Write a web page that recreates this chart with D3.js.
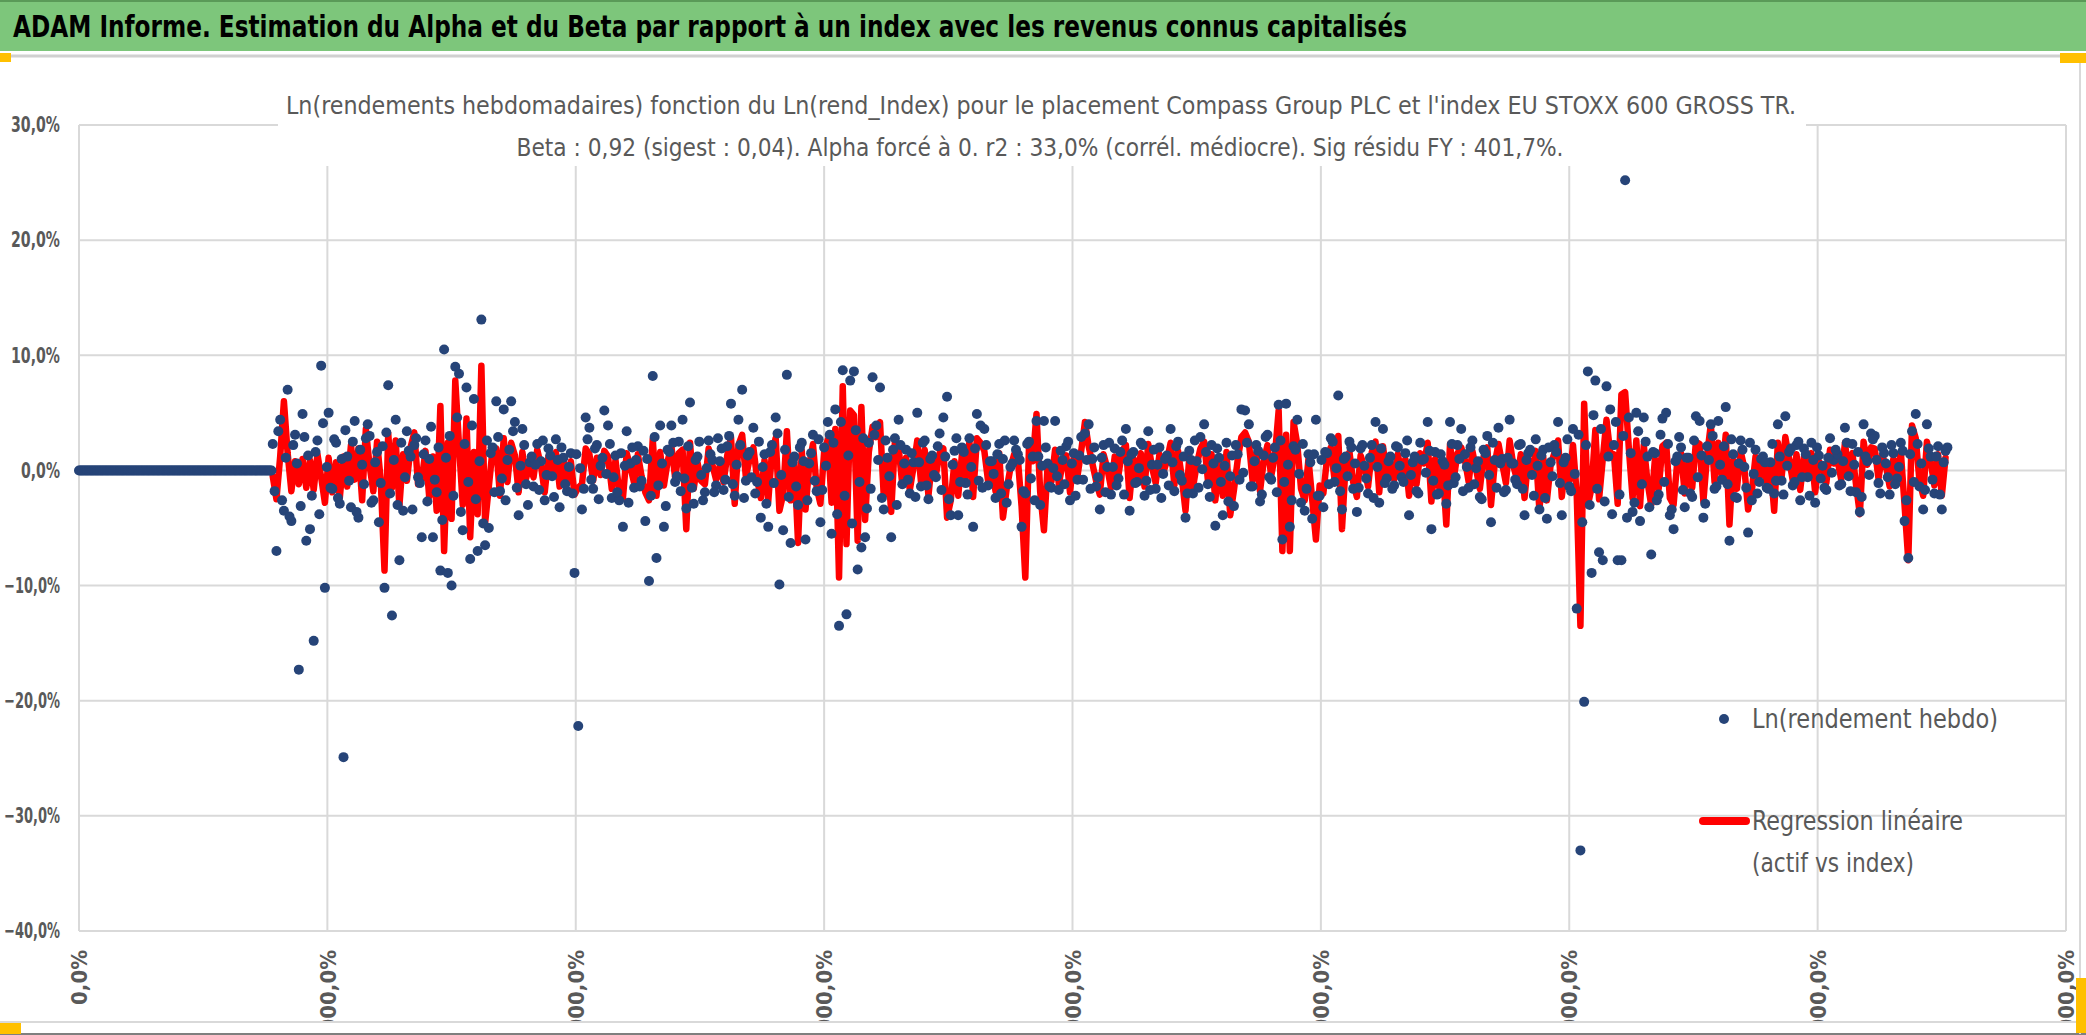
<!DOCTYPE html>
<html>
<head>
<meta charset="utf-8">
<script src="https://cdn.jsdelivr.net/npm/d3@7"></script>
<style>
  body { margin: 0; background: #fff; }
  svg { display: block; }
</style>
</head>
<body>
<svg id="chart" width="2086" height="1035"></svg>
<script>
// Texts
const mainTitle = "ADAM Informe. Estimation du Alpha et du Beta par rapport à un index avec les revenus connus capitalisés";
const chartTitle1 = "Ln(rendements hebdomadaires) fonction du Ln(rend_Index) pour le placement Compass Group PLC et l'index EU STOXX 600 GROSS TR.";
const chartTitle2 = "Beta : 0,92 (sigest : 0,04). Alpha forcé à 0. r2 : 33,0% (corrél. médiocre). Sig résidu FY : 401,7%.";
const legendLabels = ["Ln(rendement hebdo)", "Regression linéaire", "(actif vs index)"];

// Axes
const yTicks = [-40, -30, -20, -10, 0, 10, 20, 30];
const xTicks = [0, 200, 400, 600, 800, 1000, 1200, 1400, 1600];

// weeks 0..155 : flat at 0 (no history yet)
const flatWeeks = [0, 155];
// then one value every 3 weeks, in %
const firstWeek = 156;
const weekStep = 3;

const lnRendement = [
  2.3, -7.0, 4.4, -3.5, 7.0, -4.4, 3.1, -17.3, 4.9, -6.1,
  -5.1, -14.8, 2.6, 9.1, -10.2, 5.0, -1.6, 2.4, -2.9, -24.9,
  1.2, -3.2, 4.3, -4.1, 0.5, 2.8, 3.0, -2.6, 1.6, -1.1,
  -10.2, 7.4, -12.6, 4.4, -7.8, -3.5, 3.4, 1.2, 2.2, -0.6,
  -5.8, 2.6, 1.0, -5.8, -1.9, -8.7, 10.5, -8.9, -10.0, 9.0,
  8.4, -5.2, 7.2, -7.7, 6.2, -7.0, 13.1, -6.5, -5.0, 2.0,
  6.0, -1.8, 5.3, 0.9, 6.0, 4.2, -3.9, 3.6, -1.2, 0.7,
  -1.4, 2.3, 0.8, -2.6, 1.9, -0.5, 2.7, -3.2, 1.1, -1.8,
  1.5, -8.9, -22.2, -3.4, 4.6, 3.7, -1.6, 2.2, 0.4, 5.2,
  3.9, -2.4, 1.3, -2.6, -4.9, 3.4, 0.6, -1.5, 2.1, -0.9,
  -4.4, -9.6, 8.2, -7.6, 3.9, -4.9, 1.8, 3.9, -1.0, 2.5,
  4.4, -3.3, 5.9, -2.9, 1.2, -0.4, -1.9, 2.6, 0.9, -1.3,
  0.8, -1.7, 2.1, 5.8, -2.2, 4.4, 7.0, -0.9, 1.6, 3.7,
  -1.0, -4.1, 1.4, -4.9, 2.2, 4.6, -9.9, -5.2, 8.3, -6.3,
  1.2, -3.0, 2.4, -6.0, 0.6, 3.1, -1.8, -4.5, 2.0, 4.2,
  -5.5, 5.3, -13.5, 8.7, -12.5, 7.8, 8.6, -8.6, -6.7, -5.8,
  2.4, 8.1, 3.9, 7.2, -3.4, 1.1, -5.8, 2.8, 4.4, -1.2,
  1.8, -2.0, 0.7, 5.0, -1.4, 2.6, -2.5, 1.3, -0.6, 3.2,
  4.6, 6.4, -3.9, 1.7, -3.9, 2.0, -1.1, 2.8, -4.9, 4.9,
  3.9, 3.6, -1.3, 0.8, -2.4, 2.3, 1.0, -2.8, 0.3, 2.6,
  1.4, -4.9, -2.0, 2.5, 1.2, 4.3, -3.0, 4.3, 0.6, -1.5,
  4.3, -1.7, 0.9, 2.1, -2.6, 1.5, -0.8, 2.9, 3.2, 4.0,
  1.0, -1.4, -3.4, 2.2, 0.3, -2.1, 1.9, -0.7, 2.6, 3.6,
  -3.5, 1.6, -1.0, 2.4, -2.2, 3.4, 0.5, -1.6, 2.0, -0.3,
  1.3, 3.6, -1.8, 2.5, -0.9, -4.1, 1.7, -2.0, 0.8, 2.9,
  4.0, -1.2, 2.2, -4.8, 1.1, -3.9, 2.4, -0.5, -3.1, 1.4,
  5.3, 5.2, 4.0, -1.4, 2.2, -2.7, 1.3, 3.1, -0.8, 2.0,
  5.7, -6.0, 5.8, -4.9, 2.1, 4.4, -2.8, -3.5, 1.4, -4.2,
  4.4, -2.2, -3.2, 1.5, 2.8, -1.0, 6.5, -3.4, 1.2, 2.5,
  -1.6, -3.6, 1.9, 0.4, -2.0, 2.2, 4.2, -2.8, 3.6, -0.7,
  1.2, -1.3, 2.0, -0.6, 1.5, -3.9, 0.7, -1.8, 2.4, 1.0,
  4.2, -5.1, 1.6, -2.0, 0.8, -2.9, 4.2, -1.1, 2.2, 3.6,
  1.4, -1.5, 2.6, 0.2, -2.3, 1.8, 3.0, -4.5, 0.9, 3.7,
  1.0, -1.7, 4.4, 0.6, -1.2, 2.3, -3.9, 1.5, -0.4, 2.7,
  -3.4, 1.8, -4.2, 0.7, 2.2, 4.2, -3.9, 1.1, -1.4, 3.6,
  -12.0, -33.0, -20.1, 8.6, -8.9, 7.8, -7.1, -7.8, 7.3, 5.3,
  2.2, -7.8, -7.8, 25.2, 4.6, -3.6, 5.0, -4.4, 4.6, 1.2,
  -7.3, 1.5, -2.1, 4.5, 5.0, -3.9, -5.1, 1.2, 2.0, -3.2,
  1.1, -2.3, 4.7, 4.3, -4.1, 2.1, 4.0, -1.6, 4.3, -0.8,
  5.5, -6.1, 1.4, -2.4, 2.6, 0.3, -5.4, -2.6, 1.8, -1.0,
  1.2, -1.5, 0.7, -2.0, 4.0, -0.9, 4.7, 1.6, -1.3, 2.2,
  -2.6, 1.9, -0.6, 2.4, -2.8, 1.3, 0.4, -1.7, 2.8, 0.9,
  1.4, -1.2, 3.7, -0.5, 2.3, -1.9, -3.6, 4.0, 0.8, 3.2,
  3.0, -1.1, 2.0, 0.6, -2.1, 1.5, -0.7, 2.4, -4.4, -7.6,
  3.4, 4.9, -1.4, -3.4, 4.0, 1.2, -2.0, 2.1, -3.4, 1.7
];

// the in-between weeks (firstWeek + 1.5 + 3i), mostly inside the dense band
const lnRendementMid = [
  -1.8, 3.4, -2.6, 1.1, -4.0, 2.2, 0.6, -3.1, 2.9, 1.3,
  -2.2, 1.6, -3.8, 4.1, 0.3, -1.5, 2.7, -2.4, 1.0, 3.5,
  -0.9, 2.5, -3.6, 1.8, -1.2, 4.0, -2.8, 0.7, -4.5, 2.1,
  3.3, -2.0, 0.9, -3.0, 2.4, -0.6, 1.7, -3.4, 2.8, -1.1,
  1.4, -2.7, 3.8, -0.8, 2.0, -4.3, 1.1, 3.0, -2.2, 4.6,
  -3.6, 2.3, -1.0, 3.9, -2.5, 0.8, -4.6, 2.6, 1.5, -1.9,
  2.9, -0.7, -2.6, 1.8, 3.4, -1.5, 0.4, 2.2, -3.0, 1.2,
  0.5, -1.7, 2.6, -0.4, 1.3, -2.3, 0.9, 2.0, -1.2, 0.3,
  -2.0, 1.4, 0.2, -1.6, 2.7, -0.8, 1.9, -2.5, 1.1, -0.3,
  2.3, -0.6, -1.9, 1.5, 0.4, -2.8, 2.0, 0.9, -1.4, 1.7,
  1.0, -2.2, 2.9, -1.3, 0.6, -3.1, 1.6, 2.4, -0.5, -1.8,
  -0.7, 2.1, -1.5, 0.9, 2.5, -2.6, 0.2, 1.4, -1.9, 2.8,
  1.9, -0.8, 3.0, -1.2, 0.5, 2.2, -2.4, 1.3, -0.6, -2.0,
  2.5, 0.3, -2.9, 1.6, -1.1, 3.2, -0.4, 1.8, -2.3, 0.7,
  -1.4, 2.0, 0.8, -2.6, 1.5, -0.9, 2.7, -1.7, 0.4, 3.1,
  2.4, -3.8, 4.2, -2.2, 1.3, -4.6, 3.5, -1.0, 2.8, -3.3,
  -1.6, 3.1, 0.9, -2.4, 2.6, -0.5, 1.8, -3.0, 2.2, 0.6,
  -0.8, 1.5, -2.3, 0.7, 2.4, -1.3, 1.0, -0.4, 2.1, -1.7,
  1.2, -2.5, 0.5, 2.8, -1.0, 1.6, -2.1, 0.3, 1.9, -0.9,
  -1.5, 2.2, 0.8, -0.3, 1.4, -2.0, 2.6, -1.2, 0.6, 1.8,
  0.9, -1.8, 2.3, -0.7, -2.6, 1.2, 0.4, 2.0, -1.4, 0.2,
  -0.5, 1.7, -1.2, 2.5, 0.6, -2.2, 1.3, -0.8, 0.9, -1.6,
  2.0, -0.6, 1.1, -1.9, 2.4, 0.3, -1.3, 1.6, -2.1, 0.8,
  1.4, -1.1, 0.2, 2.2, -0.9, -1.7, 1.8, 0.5, -2.4, 1.0,
  -1.3, 0.7, 2.1, -0.4, 1.2, -2.0, 0.9, 2.6, -1.5, 0.1,
  1.6, -2.3, 0.6, 1.9, -1.0, 0.4, -2.7, 1.3, 2.2, -0.8,
  -0.2, 2.4, -1.4, 0.8, 1.7, -2.1, 2.9, -0.6, 1.1, -1.9,
  2.6, -1.0, 0.5, -2.6, 1.8, -0.3, 2.3, -1.6, 0.7, 1.4,
  -2.2, 0.9, 1.6, -1.2, 2.5, 0.2, -1.8, 1.0, -0.5, 2.0,
  0.6, -1.5, 2.2, -0.7, 1.1, -2.4, 0.3, 1.9, -1.1, 0.8,
  -1.6, 2.1, 0.4, -1.0, 2.6, -0.4, 1.2, -2.0, 0.9, -0.2,
  1.7, -0.9, -2.1, 1.4, 0.5, -1.3, 2.3, -0.6, 1.0, -1.8,
  0.3, 2.0, -1.2, 0.8, -2.5, 1.5, -0.4, 2.4, -1.5, 0.6,
  -1.9, 1.1, 0.6, -0.8, 2.2, -1.6, 0.9, 1.8, -2.2, 0.4,
  1.3, -2.4, 2.0, -0.5, 1.6, -1.1, 0.7, 2.7, -1.8, -0.3,
  3.1, -4.5, 2.2, -3.0, 4.8, -1.6, 3.6, -2.7, 1.2, -3.8,
  4.2, -2.1, 3.0, -4.1, 1.5, -2.8, 3.4, -1.2, 2.5, -3.2,
  1.6, -2.6, 3.1, -1.0, 2.3, -3.4, 0.8, 2.9, -1.7, 1.1,
  -2.0, 2.6, -0.6, 1.3, -2.9, 0.9, 3.0, -1.4, 0.5, 2.1,
  -1.2, 2.7, -2.3, 0.6, 1.8, -1.5, 2.4, -0.3, -2.0, 1.0,
  0.7, -1.6, 2.3, -0.9, 1.2, -2.1, 0.4, 1.9, -1.0, 2.5,
  -0.6, 1.4, -2.2, 0.9, 2.0, -0.7, -1.5, 1.1, -0.2, 1.8,
  -1.3, 0.8, 2.4, -1.8, 0.5, 1.6, -2.3, 1.2, -0.4, 2.7,
  0.9, -2.0, 1.5, -0.6, 2.2, -1.2, 0.3, 1.7, -2.6, 1.4,
  -1.0, 2.3, 0.6, -1.7, 1.9, -0.8, 1.2, -2.1, 0.7, 2.0
];

const regression = [
  -0.5, -2.5, 1.2, 6.0, 1.5, -1.8, 0.8, -1.2, 1.0, -1.5,
  0.9, -1.7, 1.4, -0.6, -2.8, 1.1, -1.9, 0.7, -2.4, 1.2,
  -1.4, 2.2, -0.8, 1.9, -2.6, 3.6, 0.4, -1.8, 2.5, -0.9,
  -8.7, 3.2, -1.5, 2.6, -3.1, 1.4, -0.9, 2.0, 3.3, -1.2,
  -0.8, 1.7, -2.3, 1.2, -3.5, 5.6, -7.0, 2.4, -4.2, 7.8,
  2.2, -3.0, 4.5, -5.8, 1.6, -3.8, 9.1, -4.6, -1.4, 1.8,
  1.9, -2.2, 2.8, -1.0, 2.4, 1.3, -1.9, 1.6, -0.7, 0.5,
  -0.6, 1.8, 0.4, -1.9, 1.2, -0.3, 1.6, -1.4, 0.9, -1.0,
  0.8, -2.1, -1.5, -1.2, 1.9, 1.4, -0.9, 1.1, -0.4, 1.7,
  1.2, -1.6, 0.9, -1.8, -2.4, 1.5, 0.3, -1.1, 1.4, -0.5,
  -1.9, -2.6, 2.7, -2.2, 1.6, -1.3, 0.8, 2.1, -0.6, 1.5,
  1.8, -5.1, 2.4, -1.6, 0.7, -0.9, -1.2, 1.9, 0.5, -0.8,
  0.4, -1.0, 1.3, 2.9, -2.9, 2.2, 3.1, -0.6, 1.0, 2.0,
  -0.7, -2.4, 0.9, -2.7, 1.6, 2.8, -3.5, -2.1, 3.4, -2.6,
  0.9, -6.3, 1.7, -3.4, 0.4, 2.3, -1.5, -2.9, 1.6, 2.7,
  -2.8, 3.6, -9.3, 7.3, -6.4, 5.2, 4.8, -6.1, 5.5, -4.3,
  1.6, 3.8, 2.9, 4.2, -2.2, 0.9, -3.6, 2.5, 2.0, -1.3,
  1.1, -1.7, 0.3, 2.6, -1.0, 1.8, -2.2, 1.0, -0.4, 1.5,
  1.9, -4.1, -2.6, 0.8, -2.2, 1.4, -0.6, 2.5, -2.3, 2.8,
  2.4, 1.7, -0.9, 0.6, -1.8, 1.5, -4.1, -1.6, 0.2, 1.4,
  1.0, -3.1, -9.3, 2.2, 0.8, 4.9, -1.9, -5.2, 0.5, -1.0,
  1.8, -1.2, 0.6, 1.3, -1.9, 1.1, -0.5, 1.7, 4.2, 2.1,
  0.6, -0.9, -2.1, 1.4, 0.2, -1.5, 1.2, -0.4, 1.7, 2.2,
  -2.4, 1.1, -0.7, 1.5, -1.4, 2.3, 0.3, -1.1, 1.4, -0.2,
  0.8, 2.4, -1.3, 1.7, -0.6, -3.5, 1.1, -1.5, 0.5, 1.9,
  2.5, -0.8, 1.4, -2.6, 0.7, -2.2, 1.6, -3.9, -1.7, 0.9,
  2.9, 3.3, 2.5, -0.9, 1.5, -1.8, 0.8, 2.2, -0.5, 1.3,
  5.2, -7.0, 3.1, -7.0, 4.2, 2.3, -1.6, -2.6, 1.0, -2.5,
  -6.0, -1.3, -2.0, 1.1, 2.0, -0.8, 3.0, -5.1, 0.7, 1.6,
  -1.0, -2.3, 1.3, 0.3, -1.4, 1.6, 2.5, -1.9, 2.1, -0.4,
  0.7, -0.8, 1.4, -0.3, 1.0, -2.2, 0.4, -1.2, 1.5, 0.6,
  2.4, -2.7, 1.0, -1.4, 0.5, -4.7, 2.3, -0.7, 1.5, 2.0,
  0.9, -1.0, 1.7, 0.1, -1.6, 1.2, 2.0, -3.0, 0.6, 2.3,
  0.6, -1.1, 2.6, 0.4, -0.8, 1.4, -2.4, 1.0, -0.3, 1.7,
  -3.5, 1.2, -2.6, 0.5, 1.5, 2.6, -2.3, 0.7, -0.9, 2.2,
  -2.0, -13.5, 5.8, -3.0, -1.5, 3.5, -2.5, 1.0, 4.4, 1.5,
  1.4, -2.9, 6.6, 6.8, 1.9, -2.4, 2.6, -3.1, 2.2, -1.0,
  -3.0, 1.0, -1.6, 2.1, 2.4, -2.4, -3.0, 0.8, 1.5, -2.0,
  0.7, -1.5, 2.5, 2.3, -2.7, 1.3, 4.0, -1.0, 2.4, -0.5,
  3.1, -4.7, 0.9, -1.6, 1.7, 0.2, -3.4, -1.8, 1.2, -0.7,
  0.8, -1.0, 0.5, -3.5, 2.4, -0.6, 2.9, 1.0, -0.9, 1.4,
  -1.7, 1.2, -0.4, 1.5, -1.9, 0.8, 0.3, -1.1, 1.8, 0.6,
  0.9, -0.8, 2.4, -0.3, 1.5, -1.3, -3.8, 2.5, 0.5, 2.0,
  1.9, -0.7, 1.3, 0.4, -1.4, 1.0, -0.5, 1.6, -3.0, -7.8,
  3.9, 2.8, -0.9, -2.2, 2.5, 0.8, -1.3, 1.4, -2.2, 1.1
];

const colors = { green: '#7dc67b', blue: '#264478', red: '#ff0000', grid: '#d9d9d9', text: '#595959' };
const font = "'Liberation Sans Narrow','DejaVu Sans Condensed','Open Sans',sans-serif";

const svg = d3.select('#chart');
const W = 2086, H = 1035;
const plot = { left: 79, right: 2066, top: 125, bottom: 931 };

// header band
svg.append('rect').attr('x', 0).attr('y', 0).attr('width', W).attr('height', 51).attr('fill', colors.green);
svg.append('rect').attr('x', 0).attr('y', 0).attr('width', W).attr('height', 2).attr('fill', '#5a9a58');
svg.append('line').attr('x1', 0).attr('x2', W).attr('y1', 56).attr('y2', 56)
    .attr('stroke', '#d0d0d0').attr('stroke-width', 3);
svg.append('text')
    .attr('x', 13).attr('y', 37)
    .attr('font-family', font).attr('font-size', 31).attr('font-weight', 'bold')
    .attr('fill', '#000')
    .attr('textLength', 1394).attr('lengthAdjust', 'spacingAndGlyphs')
    .text(mainTitle);

// chart frame bits
svg.append('line').attr('x1', 0).attr('x2', W).attr('y1', 1022).attr('y2', 1022)
    .attr('stroke', '#d9d9d9').attr('stroke-width', 2);
svg.append('line').attr('x1', 0).attr('x2', W).attr('y1', 1034).attr('y2', 1034)
    .attr('stroke', '#7f7f7f').attr('stroke-width', 2);
svg.append('line').attr('x1', 2080).attr('x2', 2080).attr('y1', 58).attr('y2', 1034)
    .attr('stroke', '#d9d9d9').attr('stroke-width', 2);

const x = d3.scaleLinear().domain([0, 1600]).range([plot.left, plot.right]);
const y = d3.scaleLinear().domain([-40, 30]).range([plot.bottom, plot.top]);

// gridlines
const grid = svg.append('g');
grid.selectAll('line.h').data(yTicks).join('line')
    .attr('x1', plot.left).attr('x2', plot.right)
    .attr('y1', d => y(d)).attr('y2', d => y(d))
    .attr('stroke', colors.grid).attr('stroke-width', 2);
grid.selectAll('line.v').data(xTicks).join('line')
    .attr('x1', d => x(d)).attr('x2', d => x(d))
    .attr('y1', plot.top).attr('y2', plot.bottom)
    .attr('stroke', colors.grid).attr('stroke-width', 2);

// y axis labels
const fmtPct = v => d3.format('.1f')(v).replace('.', ',') + '%';
const labelWidth = s => s.length <= 4 ? 39 : s.length === 5 ? 49 : 56;
const yAxis = svg.append('g')
    .attr('transform', `translate(${plot.left},0)`)
    .call(d3.axisLeft(y).tickValues(yTicks).tickSize(0).tickPadding(19).tickFormat(fmtPct));
yAxis.select('.domain').remove();
yAxis.selectAll('text')
    .attr('font-family', font).attr('font-size', 21).attr('font-weight', 'bold')
    .attr('fill', colors.text)
    .attr('textLength', d => labelWidth(fmtPct(d))).attr('lengthAdjust', 'spacingAndGlyphs');

// x axis labels, rotated and clipped by the chart frame (as in the source)
svg.append('clipPath').attr('id', 'xclip')
    .append('rect').attr('x', 0).attr('y', plot.bottom).attr('width', W).attr('height', 1021 - plot.bottom);
const xAxis = svg.append('g')
    .attr('clip-path', 'url(#xclip)')
    .append('g')
    .attr('transform', `translate(0,${plot.bottom})`)
    .call(d3.axisBottom(x).tickValues(xTicks).tickSize(0).tickFormat(d => fmtPct(d * 100)));
xAxis.select('.domain').remove();
xAxis.selectAll('text')
    .attr('font-family', font).attr('font-size', 22).attr('font-weight', 'bold')
    .attr('fill', colors.text)
    .attr('transform', 'rotate(-90)')
    .attr('text-anchor', 'end')
    .attr('x', -19).attr('y', 0).attr('dy', '0.35em');

// data
const flatPoints = d3.range(flatWeeks[0], flatWeeks[1] + 1).map(w => ({ w, v: 0 }));
const bluePoints = flatPoints
    .concat(lnRendement.map((v, i) => ({ w: firstWeek + i * weekStep, v })))
    .concat(lnRendementMid.map((v, i) => ({ w: firstWeek + 1.5 + i * weekStep, v })));
const redPoints = regression.map((v, i) => ({ w: firstWeek + i * weekStep, v }));

const line = d3.line().x(d => x(d.w)).y(d => y(d.v));
svg.append('path').datum(redPoints)
    .attr('d', line)
    .attr('fill', 'none').attr('stroke', colors.red)
    .attr('stroke-width', 6.5).attr('stroke-linejoin', 'round').attr('stroke-linecap', 'round');

svg.append('g').selectAll('circle').data(bluePoints).join('circle')
    .attr('cx', d => x(d.w)).attr('cy', d => y(d.v))
    .attr('r', 5).attr('fill', colors.blue);

// chart title box (white, sits over the top of the plot area)
svg.append('rect').attr('x', 278).attr('y', 86).attr('width', 1528).attr('height', 80).attr('fill', '#fff');
svg.append('text')
    .attr('x', 1041).attr('y', 114).attr('text-anchor', 'middle')
    .attr('font-family', font).attr('font-size', 25).attr('fill', colors.text)
    .attr('textLength', 1510).attr('lengthAdjust', 'spacingAndGlyphs')
    .text(chartTitle1);
svg.append('text')
    .attr('x', 1040).attr('y', 156).attr('text-anchor', 'middle')
    .attr('font-family', font).attr('font-size', 25).attr('fill', colors.text)
    .attr('textLength', 1047).attr('lengthAdjust', 'spacingAndGlyphs')
    .text(chartTitle2);

// legend
const legend = svg.append('g');
legend.append('circle').attr('cx', 1724).attr('cy', 719).attr('r', 5).attr('fill', colors.blue);
legend.append('line').attr('x1', 1703).attr('x2', 1746).attr('y1', 821).attr('y2', 821)
    .attr('stroke', colors.red).attr('stroke-width', 8).attr('stroke-linecap', 'round');
legend.append('text').attr('x', 1752).attr('y', 728)
    .attr('font-family', font).attr('font-size', 26).attr('fill', colors.text)
    .attr('textLength', 246).attr('lengthAdjust', 'spacingAndGlyphs')
    .text(legendLabels[0]);
legend.append('text').attr('x', 1752).attr('y', 830)
    .attr('font-family', font).attr('font-size', 26).attr('fill', colors.text)
    .attr('textLength', 211).attr('lengthAdjust', 'spacingAndGlyphs')
    .text(legendLabels[1]);
legend.append('text').attr('x', 1752).attr('y', 872)
    .attr('font-family', font).attr('font-size', 26).attr('fill', colors.text)
    .attr('textLength', 162).attr('lengthAdjust', 'spacingAndGlyphs')
    .text(legendLabels[2]);

// selection handles
[[0, 53, 11, 9], [2060, 53, 26, 10], [0, 1023, 21, 11], [2076, 978, 10, 55]].forEach(r => {
  svg.append('rect').attr('x', r[0]).attr('y', r[1]).attr('width', r[2]).attr('height', r[3]).attr('fill', '#ffc000');
});
</script>
</body>
</html>
